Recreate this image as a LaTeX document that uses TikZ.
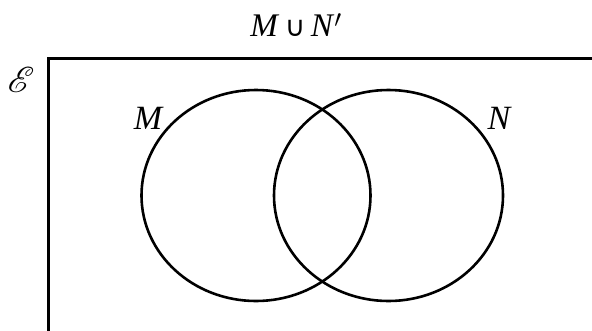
\documentclass[tikz,border=0pt]{standalone}
\usepackage{amsmath,amssymb}
\usepackage{mathrsfs}
\usepackage{graphicx}
\usepackage{fontspec}
\setmainfont{Liberation Serif}
\newfontfamily\symfont{DejaVu Sans}
\usepackage{tikz}
\usetikzlibrary{positioning}

\begin{document}
\begin{tikzpicture}[x=1pt, y=-1pt, line width=2.6pt,
  setlabel/.style={inner sep=0pt, font=\fontsize{34}{40}\selectfont\itshape},
  title/.style={inner sep=0pt, font=\fontsize{33}{40}\selectfont}]
  \useasboundingbox (0,0) rectangle (592,330);
  % universal set, open to the right and below
  \coordinate (ur) at (594,58.5);
  \coordinate (ul) at (48.5,58.5);
  \coordinate (ll) at (48.5,332);
  \draw (ur) -- (ul) -- (ll);
  \node[inner sep=0pt] (univ) at (21,79.5) {\scalebox{1.45}{\fontsize{24.88}{30}\selectfont$\mathscr{E}$}};
  \node[title] (expr) at (296,25) {\textit{M}\,{\symfont\fontsize{28}{34}\selectfont ∪}\,\textit{N}$'$};

  \draw (256,195.5) ellipse [x radius=114.5, y radius=105.5];
  \draw (388.5,195.5) ellipse [x radius=114.5, y radius=105.5];
  \node[setlabel] (mlab) at (148,118) {M};
  \node[setlabel] (nlab) at (499,118) {N};
\end{tikzpicture}
\end{document}
